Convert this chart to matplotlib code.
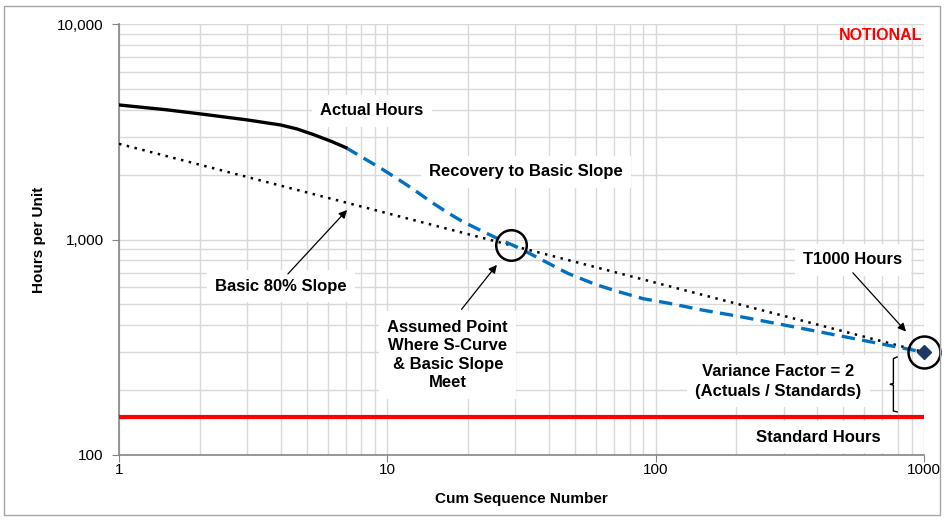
import matplotlib.pyplot as plt
import matplotlib.ticker as mticker
from matplotlib.patches import Rectangle

plt.rcParams['font.family'] = ['Liberation Sans', 'DejaVu Sans']

# actual hours (solid black)
actual_x = [1, 1.5, 2, 3, 4, 4.6, 5.3, 6.2, 7]
actual_y = [4210, 4000, 3830, 3590, 3400, 3260, 3070, 2850, 2670]

# recovery to basic slope (dashed blue)
recovery_x = [7, 8, 9.4, 11, 12.5, 14.5, 16.8, 19, 22, 26, 30, 34, 38, 47, 60, 72.5, 90, 112, 150, 200, 350, 625, 1000]
recovery_y = [2670, 2420, 2150, 1900, 1710, 1500, 1330, 1215, 1110, 1005, 930, 860, 800, 697, 617, 573, 531, 506, 470, 442, 387, 336, 300]

# basic 80% slope (dotted black)
basic_x = [1, 1000]
basic_y = [2780, 300]

# standard hours
std_x = [1, 1000]
std_y = [150, 150]

# T1000 point and meeting point
t1000_x, t1000_y = 1000, 300
meet_x, meet_y = 29, 945

fig = plt.figure(figsize=(9.44, 5.2), dpi=100)
ax = fig.add_axes([119/944, 1 - 455/520, 805/944, 431/520])

ax.set_xscale('log')
ax.set_yscale('log')
ax.set_xlim(1, 1000)
ax.set_ylim(100, 10000)

ax.grid(True, which='both', color='#D9D9D9', lw=1)
ax.set_axisbelow(True)

ax.plot(basic_x, basic_y, color='black', lw=1.8, ls=(0, (1, 2.2)), zorder=3)
ax.plot(std_x, std_y, color='#FF0000', lw=3, zorder=3, solid_capstyle='butt')
ax.plot(recovery_x, recovery_y, color='#0070C0', lw=2.4, ls=(0, (4, 2.2)), zorder=4)
ax.plot(actual_x, actual_y, color='black', lw=2.4, zorder=4)
ax.plot([t1000_x], [t1000_y], marker='D', ms=7, color='#1F3864', mec='#1F3864', zorder=6, clip_on=False)
ax.plot([t1000_x], [t1000_y], marker='o', ms=23, mfc='none', mec='black', mew=1.8, zorder=6, clip_on=False)
ax.plot([meet_x], [meet_y], marker='o', ms=22, mfc='none', mec='black', mew=1.8, zorder=6)

box = dict(boxstyle='square,pad=0.5', fc='white', ec='none')
tkw = dict(fontsize=12, fontweight='bold', ha='center', va='center', bbox=box, zorder=5)
ax.text(8.77, 3950, 'Actual Hours', **tkw)
ax.text(32.9, 2057, 'Recovery to Basic Slope', **tkw)
ax.text(4.02, 608, 'Basic 80% Slope', **tkw)
ax.text(16.8, 291, 'Assumed Point\nWhere S-Curve\n& Basic Slope\nMeet', linespacing=1.3, **tkw)
ax.text(544, 804, 'T1000 Hours', **tkw)
ax.text(286, 220, 'Variance Factor = 2\n(Actuals / Standards)', linespacing=1.42, **tkw)
ax.text(403, 121, 'Standard Hours', **tkw)
ax.text(0.9975, 0.974, 'NOTIONAL', transform=ax.transAxes, fontsize=11.5,
        fontweight='bold', color='#FF0000', ha='right', va='center', zorder=5)

akw = dict(arrowstyle='-|>', color='black', lw=0.9, mutation_scale=12, shrinkA=0, shrinkB=0)
ax.annotate('', xy=(7.08, 1371), xytext=(4.26, 692), arrowprops=akw, zorder=6)
ax.annotate('', xy=(25.6, 763), xytext=(18.9, 474), arrowprops=akw, zorder=6)
ax.annotate('', xy=(857, 374), xytext=(543, 701), arrowprops=akw, zorder=6)

# variance bracket
ax.plot([794, 769, 769, 748, 769, 769, 794],
        [285, 280, 215, 213, 211, 160, 158.5], color='black', lw=1, zorder=5)

ax.xaxis.set_major_locator(mticker.LogLocator(base=10))
ax.xaxis.set_major_formatter(mticker.FuncFormatter(lambda v, p: f'{v:.0f}'))
ax.yaxis.set_major_formatter(mticker.FuncFormatter(lambda v, p: f'{v:,.0f}'))
ax.xaxis.set_minor_formatter(mticker.NullFormatter())
ax.yaxis.set_minor_formatter(mticker.NullFormatter())
ax.tick_params(which='major', length=5, color='#868686', labelsize=11, pad=6)
ax.tick_params(axis='x', which='major', pad=0.5)
ax.tick_params(which='minor', length=0)

for s in ['top', 'right']:
    ax.spines[s].set_visible(False)
for s in ['left', 'bottom']:
    ax.spines[s].set_color('#868686')
    ax.spines[s].set_linewidth(1.2)

ax.set_xlabel('Cum Sequence Number', fontsize=11, fontweight='bold', labelpad=11)
ax.set_ylabel('Hours per Unit', fontsize=11, fontweight='bold', labelpad=8)

fig.patches.append(Rectangle((4/944, 1 - 515/520), 936/944, 509/520, transform=fig.transFigure,
                             fill=False, ec='#A6A6A6', lw=1))

fig.savefig('out.png', dpi=100)
